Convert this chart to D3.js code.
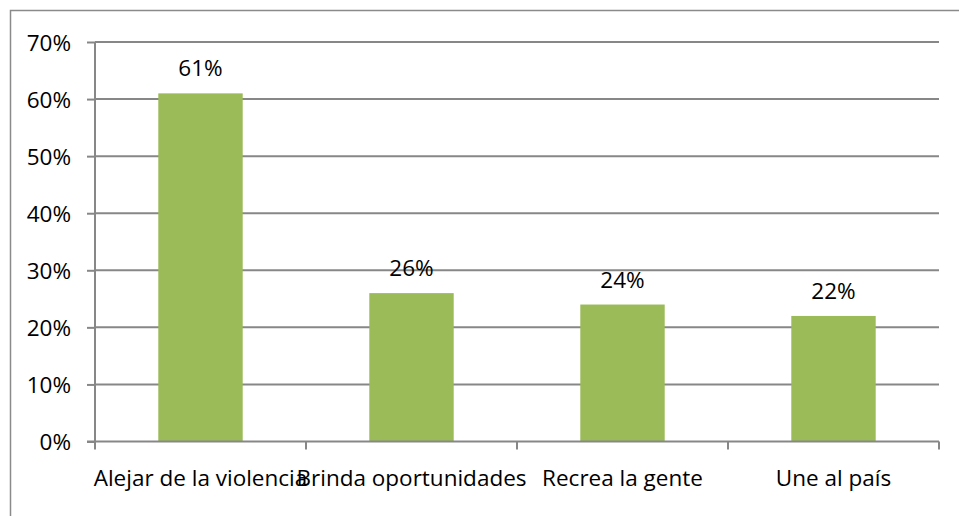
<!DOCTYPE html>
<html><head><meta charset="utf-8">
<script src="https://cdn.jsdelivr.net/npm/d3@7"></script>
<style>body{margin:0;background:#fff}svg{display:block}</style>
</head><body>
<script>
const categories = ["Alejar de la violencia","Brinda oportunidades","Recrea la gente","Une al país"];
const values = [0.61, 0.26, 0.24, 0.22];
const valueLabels = ["61%","26%","24%","22%"];
const yTicks = [0,0.1,0.2,0.3,0.4,0.5,0.6,0.7];

(function(){
const W = 959, H = 516;
const svg = d3.select("body").append("svg").attr("width", W).attr("height", H);
const font = "'Open Sans', sans-serif";
const fs = 22.5;
const grid = "#878787";

svg.append("rect").attr("x",10.5).attr("y",10.5).attr("width",970).attr("height",530)
  .attr("fill","none").attr("stroke","#8a8a8a").attr("stroke-width",1.5);

const pL = 95, pR = 939, pT = 42, pB = 441.5;
const x = d3.scaleBand().domain(categories).range([pL, pR]).paddingInner(0.6).paddingOuter(0.3);
const xb = d3.scaleBand().domain(categories).range([pL, pR]);
const y = d3.scaleLinear().domain([0, 0.7]).range([pB, pT]);

svg.append("g").selectAll("line").data(yTicks.filter(d=>d>0)).join("line")
  .attr("x1", pL).attr("x2", pR).attr("y1", d=>y(d)).attr("y2", d=>y(d))
  .attr("stroke", grid).attr("stroke-width", 2);

const yAxis = svg.append("g").attr("transform", `translate(${pL},0)`)
  .call(d3.axisLeft(y).tickValues(yTicks).tickFormat(d3.format(".0%")).tickSize(8).tickPadding(16));
yAxis.select(".domain").attr("stroke", grid).attr("stroke-width", 2).attr("d", `M0,${pT}V${pB}`);
yAxis.selectAll(".tick line").attr("stroke", grid).attr("stroke-width", 2);
yAxis.selectAll(".tick text").attr("font-family", font).attr("font-size", fs).attr("fill", "#000").attr("dy","0.36em");

svg.append("g").selectAll("rect").data(values).join("rect")
  .attr("x", (d,i)=>x(categories[i])).attr("width", x.bandwidth())
  .attr("y", d=>y(d)).attr("height", d=>pB - y(d))
  .attr("fill", "#9bbb59");

const xAxisG = svg.append("g").attr("transform", `translate(0,${pB})`);
xAxisG.append("line").attr("x1", pL-8).attr("x2", pR).attr("stroke", grid).attr("stroke-width", 2);
const bounds = categories.map(c=>xb(c)).concat([pR]);
xAxisG.selectAll("line.tk").data(bounds).join("line").attr("class","tk")
  .attr("x1", d=>d).attr("x2", d=>d).attr("y1",0).attr("y2",8).attr("stroke", grid).attr("stroke-width", 2);
xAxisG.selectAll("text").data(categories).join("text")
  .attr("x", d=>xb(d)+xb.bandwidth()/2).attr("y", 44)
  .attr("text-anchor","middle").attr("font-family", font).attr("font-size", fs).attr("fill","#000")
  .text(d=>d);

svg.append("g").selectAll("text").data(values).join("text")
  .attr("x", (d,i)=>x(categories[i]) + x.bandwidth()/2).attr("y", d=>y(d) - 17)
  .attr("text-anchor","middle").attr("font-family", font).attr("font-size", fs).attr("fill","#000")
  .text((d,i)=>valueLabels[i]);
})();
</script>
</body></html>
